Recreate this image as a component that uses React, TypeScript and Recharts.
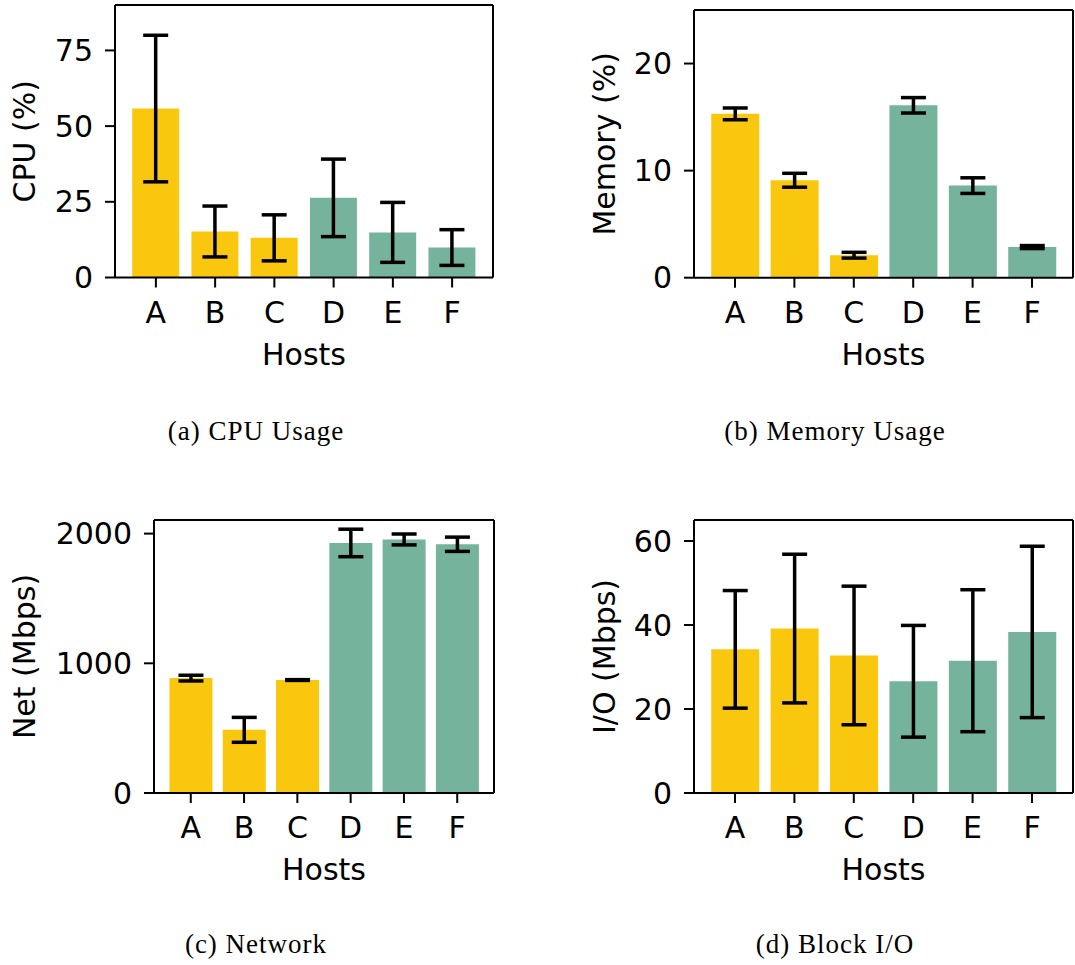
import { BarChart, Bar, XAxis, YAxis, ErrorBar, Cell, CartesianGrid } from 'recharts'

const hosts = ['A', 'B', 'C', 'D', 'E', 'F']

const cpuMean = [55.8, 15.2, 13.1, 26.3, 14.9, 9.9]
const cpuErr = [24.2, 8.4, 7.6, 12.8, 9.9, 5.9]
const cpuTicks = [0, 25, 50, 75]

const memMean = [15.3, 9.1, 2.1, 16.1, 8.6, 2.86]
const memErr = [0.55, 0.65, 0.27, 0.72, 0.73, 0.14]
const memTicks = [0, 10, 20]

const netMean = [886, 487, 871, 1928, 1955, 1918]
const netErr = [22, 96, 3, 106, 42, 55]
const netTicks = [0, 1000, 2000]

const ioMean = [34.2, 39.15, 32.75, 26.6, 31.5, 38.35]
const ioErr = [14, 17.7, 16.5, 13.3, 16.9, 20.4]
const ioTicks = [0, 20, 40, 60]

const captions = ['(a) CPU Usage', '(b) Memory Usage', '(c) Network', '(d) Block I/O']

const YELLOW = '#F9C80E'
const GREEN = '#76B39D'
const FONT = 'DejaVu Sans'

function YLabel(props: any) {
  const vb = props.viewBox || { x: 0, y: 0, height: 0 }
  const x = vb.x + 35
  const y = vb.y + vb.height / 2
  return (
    <text x={x} y={y} transform={`rotate(-90 ${x} ${y})`} textAnchor="middle" fontSize={30} fontFamily={FONT} fill="#000">
      {props.text}
    </text>
  )
}

type PanelProps = {
  means: number[]
  errs: number[]
  domain: [number, number]
  ticks: number[]
  yLabel: string
  left: number
  top: number
  width: number
  yAxisWidth: number
  marginTop: number
  marginRight: number
  plotHeight: number
}

function Panel(p: PanelProps) {
  const data = hosts.map((h, i) => ({ host: h, value: p.means[i], err: p.errs[i] }))
  const plotWidth = p.width - p.yAxisWidth - p.marginRight
  const pad = plotWidth * 0.19 / 6.38
  const height = 380
  return (
    <div style={{ position: 'absolute', left: p.left, top: p.top }}>
      <BarChart
        width={p.width}
        height={height}
        data={data}
        margin={{ top: p.marginTop, right: p.marginRight, left: 0, bottom: height - p.marginTop - p.plotHeight - 90 }}
        barCategoryGap="10%"
      >
        {/* box around the plot area, like matplotlib spines */}
        <CartesianGrid
          stroke="#000"
          strokeWidth={2}
          horizontalCoordinatesGenerator={({ offset }: any) => [offset.top]}
          verticalCoordinatesGenerator={({ offset }: any) => [offset.left + offset.width]}
        />
        <XAxis
          dataKey="host"
          height={90}
          padding={{ left: pad, right: pad }}
          tickSize={10}
          tickMargin={14}
          tick={{ fill: '#000', fontSize: 30 }}
          tickLine={{ stroke: '#000', strokeWidth: 2 }}
          axisLine={{ stroke: '#000', strokeWidth: 2 }}
          label={{ value: 'Hosts', position: 'insideBottom', offset: 3, fill: '#000', fontSize: 30 }}
        />
        <YAxis
          width={p.yAxisWidth}
          domain={p.domain}
          ticks={p.ticks}
          allowDataOverflow
          tickSize={10}
          tickMargin={12}
          tick={{ fill: '#000', fontSize: 30 }}
          tickLine={{ stroke: '#000', strokeWidth: 2 }}
          axisLine={{ stroke: '#000', strokeWidth: 2 }}
          label={<YLabel text={p.yLabel} />}
        />
        <Bar dataKey="value" isAnimationActive={false}>
          {data.map((d, i) => (
            <Cell key={d.host} fill={i < 3 ? YELLOW : GREEN} />
          ))}
          <ErrorBar dataKey="err" width={12.5} stroke="#000" strokeWidth={3.5} />
        </Bar>
      </BarChart>
    </div>
  )
}

export default function App() {
  return (
    <div style={{ position: 'absolute', left: 0, top: 0, width: 1075, height: 965, background: '#fff', fontFamily: FONT }}>
      <Panel means={cpuMean} errs={cpuErr} domain={[0, 90]} ticks={cpuTicks} yLabel="CPU (%)"
        left={0} top={-5} width={500} yAxisWidth={115} marginTop={10} marginRight={7} plotHeight={272.5} />
      <Panel means={memMean} errs={memErr} domain={[0, 25]} ticks={memTicks} yLabel="Memory (%)"
        left={580} top={-5} width={495} yAxisWidth={114} marginTop={15} marginRight={2} plotHeight={267.7} />
      <Panel means={netMean} errs={netErr} domain={[0, 2105]} ticks={netTicks} yLabel="Net (Mbps)"
        left={0} top={510} width={500} yAxisWidth={154} marginTop={10} marginRight={6} plotHeight={273} />
      <Panel means={ioMean} errs={ioErr} domain={[0, 65]} ticks={ioTicks} yLabel="I/O (Mbps)"
        left={580} top={510} width={495} yAxisWidth={114} marginTop={10} marginRight={2} plotHeight={273} />
      <svg width={1075} height={965} style={{ position: 'absolute', left: 0, top: 0, pointerEvents: 'none' }}>
        {captions.map((c, i) => (
          <text key={c} x={i % 2 === 0 ? 256 : 835} y={i < 2 ? 440 : 953} textAnchor="middle"
            fontFamily="Liberation Serif" fontSize={27} letterSpacing={1} fill="#000">
            {c}
          </text>
        ))}
      </svg>
    </div>
  )
}
